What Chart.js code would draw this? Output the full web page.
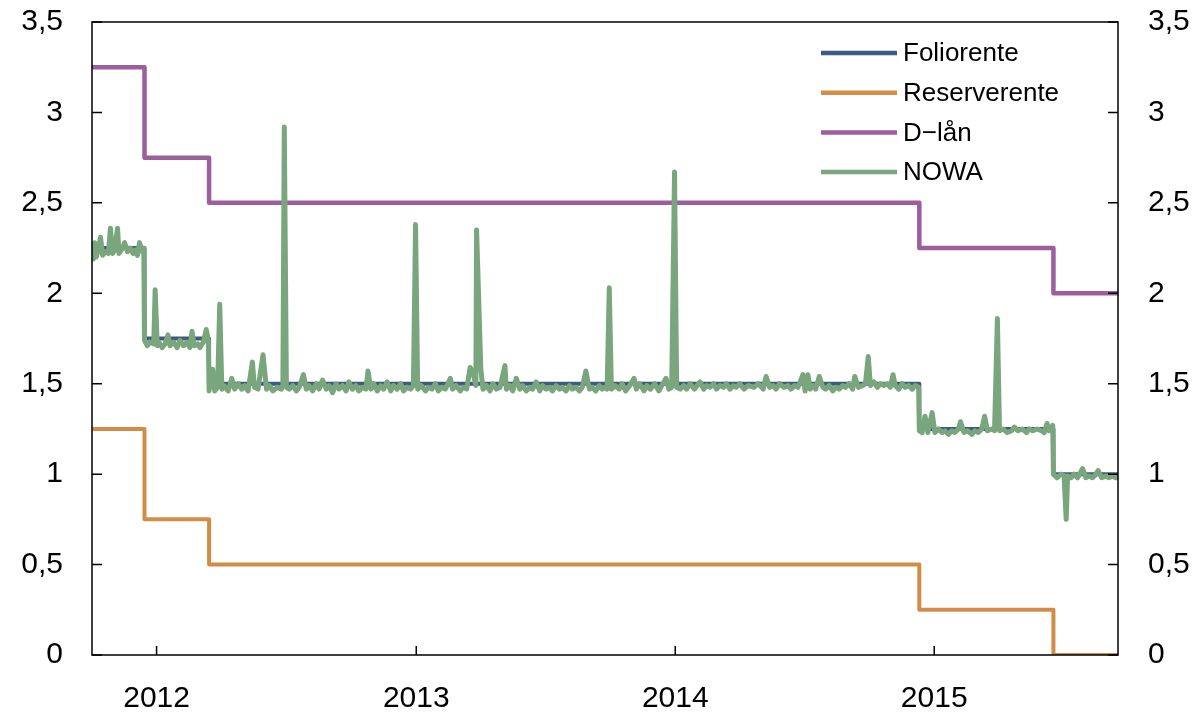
<!DOCTYPE html>
<html>
<head>
<meta charset="utf-8">
<title>Foliorente, reserverente, D-lån og NOWA</title>
<script src="https://cdn.jsdelivr.net/npm/chart.js@4/dist/chart.umd.min.js"></script>
<style>
  html, body { margin: 0; padding: 0; background: #fff; }
  #wrap { position: relative; width: 1199px; height: 716px; }
</style>
</head>
<body>
<div id="wrap"><canvas id="rates"></canvas></div>
<script>
// Axis range and tick labels
const xStart = '2011-10-02';
const xEnd = '2015-09-17';
const yearTicks = ['2012-01-01', '2013-01-01', '2014-01-01', '2015-01-01'];
const yearLabels = ['2012', '2013', '2014', '2015'];
const yTicks = [0, 0.5, 1, 1.5, 2, 2.5, 3, 3.5];

// Policy rate decisions (date the new level applies)
const changeDates = ['2011-10-02', '2011-12-15', '2012-03-15', '2014-12-11', '2015-06-18', '2015-09-17'];
const folioRate = [2.25, 1.75, 1.5, 1.25, 1.0, 1.0];
const reserveRate = [1.25, 0.75, 0.5, 0.25, 0.0, 0.0];
const dLoanRate = [3.25, 2.75, 2.5, 2.25, 2.0, 2.0];

// NOWA
const nowa = [
  ['2011-10-02', 2.27], ['2011-10-04', 2.19], ['2011-10-06', 2.28], ['2011-10-08', 2.20], ['2011-10-11', 2.24],
  ['2011-10-14', 2.31], ['2011-10-17', 2.21], ['2011-10-21', 2.23], ['2011-10-25', 2.22], ['2011-10-28', 2.36],
  ['2011-10-31', 2.22], ['2011-11-03', 2.24], ['2011-11-07', 2.36], ['2011-11-09', 2.22], ['2011-11-14', 2.25],
  ['2011-11-17', 2.28], ['2011-11-21', 2.23], ['2011-11-25', 2.25], ['2011-11-29', 2.22], ['2011-12-02', 2.24],
  ['2011-12-05', 2.21], ['2011-12-08', 2.28], ['2011-12-12', 2.23], ['2011-12-14', 2.25], ['2011-12-15', 1.74],
  ['2011-12-19', 1.71], ['2011-12-22', 1.73], ['2011-12-28', 1.72], ['2011-12-30', 2.02], ['2012-01-02', 1.71],
  ['2012-01-04', 1.73], ['2012-01-09', 1.70], ['2012-01-13', 1.72], ['2012-01-17', 1.77], ['2012-01-20', 1.71],
  ['2012-01-25', 1.73], ['2012-01-30', 1.70], ['2012-02-03', 1.74], ['2012-02-08', 1.71], ['2012-02-13', 1.73],
  ['2012-02-17', 1.70], ['2012-02-20', 1.79], ['2012-02-23', 1.71], ['2012-02-28', 1.72], ['2012-03-02', 1.70],
  ['2012-03-07', 1.73], ['2012-03-11', 1.80], ['2012-03-14', 1.74], ['2012-03-15', 1.46], ['2012-03-20', 1.58],
  ['2012-03-23', 1.46], ['2012-03-27', 1.48], ['2012-03-30', 1.94], ['2012-04-02', 1.47], ['2012-04-05', 1.49],
  ['2012-04-11', 1.46], ['2012-04-16', 1.53], ['2012-04-20', 1.47], ['2012-04-25', 1.50], ['2012-04-30', 1.47],
  ['2012-05-04', 1.49], ['2012-05-09', 1.46], ['2012-05-15', 1.62], ['2012-05-18', 1.48], ['2012-05-23', 1.47],
  ['2012-05-30', 1.66], ['2012-06-04', 1.47], ['2012-06-08', 1.49], ['2012-06-13', 1.46], ['2012-06-19', 1.48],
  ['2012-06-25', 1.47], ['2012-06-27', 1.49], ['2012-06-29', 2.92], ['2012-07-02', 1.48], ['2012-07-06', 1.47],
  ['2012-07-11', 1.49], ['2012-07-16', 1.46], ['2012-07-20', 1.48], ['2012-07-26', 1.55], ['2012-07-30', 1.47],
  ['2012-08-03', 1.49], ['2012-08-08', 1.46], ['2012-08-13', 1.50], ['2012-08-17', 1.47], ['2012-08-22', 1.52],
  ['2012-08-27', 1.47], ['2012-08-31', 1.49], ['2012-09-05', 1.45], ['2012-09-10', 1.50], ['2012-09-14', 1.47],
  ['2012-09-19', 1.49], ['2012-09-24', 1.46], ['2012-09-28', 1.51], ['2012-10-03', 1.47], ['2012-10-08', 1.49],
  ['2012-10-12', 1.46], ['2012-10-17', 1.48], ['2012-10-22', 1.47], ['2012-10-25', 1.57], ['2012-10-29', 1.47],
  ['2012-11-02', 1.50], ['2012-11-07', 1.46], ['2012-11-12', 1.49], ['2012-11-16', 1.47], ['2012-11-21', 1.51],
  ['2012-11-26', 1.46], ['2012-11-30', 1.49], ['2012-12-05', 1.47], ['2012-12-10', 1.50], ['2012-12-14', 1.46],
  ['2012-12-19', 1.48], ['2012-12-24', 1.47], ['2012-12-28', 1.49], ['2012-12-31', 2.38], ['2013-01-03', 1.47],
  ['2013-01-08', 1.49], ['2013-01-14', 1.46], ['2013-01-18', 1.48], ['2013-01-23', 1.47], ['2013-01-28', 1.50],
  ['2013-02-01', 1.46], ['2013-02-06', 1.48], ['2013-02-11', 1.47], ['2013-02-18', 1.53], ['2013-02-21', 1.47],
  ['2013-02-26', 1.49], ['2013-03-04', 1.46], ['2013-03-08', 1.48], ['2013-03-13', 1.47], ['2013-03-18', 1.59],
  ['2013-03-22', 1.56], ['2013-03-26', 1.49], ['2013-03-27', 2.35], ['2013-04-02', 1.58], ['2013-04-05', 1.47],
  ['2013-04-10', 1.49], ['2013-04-15', 1.46], ['2013-04-19', 1.50], ['2013-04-24', 1.47], ['2013-04-29', 1.48],
  ['2013-05-06', 1.60], ['2013-05-08', 1.47], ['2013-05-13', 1.49], ['2013-05-17', 1.46], ['2013-05-22', 1.53],
  ['2013-05-27', 1.47], ['2013-05-31', 1.49], ['2013-06-05', 1.46], ['2013-06-10', 1.48], ['2013-06-14', 1.47],
  ['2013-06-19', 1.51], ['2013-06-24', 1.46], ['2013-06-28', 1.49], ['2013-07-03', 1.47], ['2013-07-08', 1.48],
  ['2013-07-12', 1.46], ['2013-07-17', 1.49], ['2013-07-22', 1.47], ['2013-07-26', 1.48], ['2013-07-31', 1.46],
  ['2013-08-05', 1.49], ['2013-08-09', 1.47], ['2013-08-14', 1.48], ['2013-08-19', 1.46], ['2013-08-23', 1.48],
  ['2013-08-28', 1.57], ['2013-09-02', 1.47], ['2013-09-06', 1.48], ['2013-09-11', 1.46], ['2013-09-16', 1.49],
  ['2013-09-20', 1.47], ['2013-09-25', 1.48], ['2013-09-27', 1.47], ['2013-09-30', 2.03], ['2013-10-03', 1.47],
  ['2013-10-08', 1.49], ['2013-10-14', 1.47], ['2013-10-18', 1.50], ['2013-10-23', 1.46], ['2013-10-29', 1.49],
  ['2013-11-04', 1.53], ['2013-11-07', 1.47], ['2013-11-12', 1.50], ['2013-11-18', 1.46], ['2013-11-22', 1.49],
  ['2013-11-27', 1.47], ['2013-12-03', 1.50], ['2013-12-09', 1.46], ['2013-12-13', 1.49], ['2013-12-19', 1.53],
  ['2013-12-23', 1.47], ['2013-12-27', 1.48], ['2013-12-31', 2.67], ['2014-01-03', 1.48], ['2014-01-08', 1.47],
  ['2014-01-13', 1.49], ['2014-01-17', 1.47], ['2014-01-22', 1.50], ['2014-01-28', 1.47], ['2014-02-05', 1.51],
  ['2014-02-10', 1.47], ['2014-02-14', 1.49], ['2014-02-19', 1.48], ['2014-02-24', 1.50], ['2014-02-28', 1.47],
  ['2014-03-05', 1.49], ['2014-03-10', 1.48], ['2014-03-14', 1.50], ['2014-03-19', 1.47], ['2014-03-24', 1.49],
  ['2014-03-28', 1.48], ['2014-04-02', 1.50], ['2014-04-08', 1.47], ['2014-04-14', 1.49], ['2014-04-22', 1.48],
  ['2014-04-28', 1.50], ['2014-05-05', 1.47], ['2014-05-09', 1.54], ['2014-05-14', 1.48], ['2014-05-19', 1.49],
  ['2014-05-23', 1.47], ['2014-05-28', 1.50], ['2014-06-03', 1.48], ['2014-06-09', 1.49], ['2014-06-13', 1.47],
  ['2014-06-18', 1.49], ['2014-06-23', 1.48], ['2014-06-30', 1.55], ['2014-07-03', 1.46], ['2014-07-07', 1.55],
  ['2014-07-10', 1.47], ['2014-07-15', 1.49], ['2014-07-18', 1.47], ['2014-07-23', 1.54], ['2014-07-28', 1.48],
  ['2014-08-01', 1.47], ['2014-08-06', 1.49], ['2014-08-11', 1.46], ['2014-08-15', 1.48], ['2014-08-20', 1.47],
  ['2014-08-25', 1.49], ['2014-08-29', 1.48], ['2014-09-03', 1.50], ['2014-09-08', 1.47], ['2014-09-11', 1.54],
  ['2014-09-16', 1.48], ['2014-09-22', 1.49], ['2014-09-26', 1.50], ['2014-09-30', 1.65], ['2014-10-03', 1.49],
  ['2014-10-08', 1.51], ['2014-10-13', 1.48], ['2014-10-17', 1.50], ['2014-10-22', 1.49], ['2014-10-27', 1.50],
  ['2014-10-31', 1.48], ['2014-11-04', 1.55], ['2014-11-07', 1.49], ['2014-11-12', 1.47], ['2014-11-17', 1.50],
  ['2014-11-21', 1.48], ['2014-11-26', 1.49], ['2014-12-01', 1.47], ['2014-12-05', 1.49], ['2014-12-10', 1.48],
  ['2014-12-11', 1.24], ['2014-12-15', 1.23], ['2014-12-19', 1.32], ['2014-12-23', 1.23], ['2014-12-29', 1.34],
  ['2015-01-02', 1.23], ['2015-01-07', 1.25], ['2015-01-12', 1.23], ['2015-01-16', 1.24], ['2015-01-21', 1.22],
  ['2015-01-26', 1.24], ['2015-01-30', 1.23], ['2015-02-04', 1.25], ['2015-02-07', 1.29], ['2015-02-12', 1.23],
  ['2015-02-17', 1.24], ['2015-02-23', 1.22], ['2015-02-27', 1.24], ['2015-03-04', 1.23], ['2015-03-09', 1.25],
  ['2015-03-13', 1.32], ['2015-03-17', 1.24], ['2015-03-23', 1.25], ['2015-03-27', 1.24], ['2015-03-31', 1.86],
  ['2015-04-03', 1.24], ['2015-04-08', 1.25], ['2015-04-14', 1.23], ['2015-04-20', 1.24], ['2015-04-24', 1.26],
  ['2015-04-29', 1.24], ['2015-05-05', 1.25], ['2015-05-11', 1.23], ['2015-05-15', 1.25], ['2015-05-20', 1.24],
  ['2015-05-26', 1.25], ['2015-06-01', 1.24], ['2015-06-05', 1.23], ['2015-06-09', 1.28], ['2015-06-12', 1.24],
  ['2015-06-17', 1.27], ['2015-06-18', 1.00], ['2015-06-23', 0.98], ['2015-06-29', 1.00], ['2015-07-03', 0.99],
  ['2015-07-06', 0.75], ['2015-07-08', 0.99], ['2015-07-13', 0.98], ['2015-07-17', 1.00], ['2015-07-22', 0.98],
  ['2015-07-29', 1.03], ['2015-08-03', 0.98], ['2015-08-07', 0.99], ['2015-08-12', 0.98], ['2015-08-17', 1.00],
  ['2015-08-20', 1.02], ['2015-08-25', 0.98], ['2015-08-31', 0.99], ['2015-09-04', 0.98], ['2015-09-09', 0.99],
  ['2015-09-14', 0.98], ['2015-09-17', 0.98]
];

const FONT = '"Liberation Sans", Arial, Helvetica, sans-serif';
const day = s => Date.parse(s + 'T00:00:00Z') / 864e5;
const stepSeries = values => changeDates.map((d, i) => ({ x: day(d), y: values[i] }));
const fmt = v => String(v).replace('.', ',');
// fixed box sizes so the plot area lands where the original has it
const fixSize = (w, h) => s => {
    if (w) s.width = w;
    if (h) s.height = h;
    s.paddingTop = s.paddingBottom = s.paddingLeft = s.paddingRight = 0;
};

// frame box, inward tick marks and the legend inside the plot
const framePlugin = {
    id: 'frame',
    afterDraw(chart) {
        const ctx = chart.ctx;
        const a = chart.chartArea;
        const x = chart.scales.x, y = chart.scales.y;
        ctx.save();
        ctx.strokeStyle = '#000';
        ctx.lineWidth = 1.5;
        ctx.strokeRect(a.left, a.top, a.right - a.left, a.bottom - a.top);
        ctx.beginPath();
        yTicks.forEach(v => {
            const py = y.getPixelForValue(v);
            ctx.moveTo(a.left, py); ctx.lineTo(a.left + 10, py);
            ctx.moveTo(a.right, py); ctx.lineTo(a.right - 10, py);
        });
        yearTicks.forEach(d => {
            const px = x.getPixelForValue(day(d));
            ctx.moveTo(px, a.bottom); ctx.lineTo(px, a.bottom - 9);
        });
        ctx.stroke();

        // legend
        ctx.font = '26px ' + FONT;
        ctx.textBaseline = 'middle';
        ctx.textAlign = 'left';
        chart.data.datasets.forEach((ds, i) => {
            const ly = 53 + i * 39.7;
            ctx.strokeStyle = ds.borderColor;
            ctx.lineWidth = 4.5;
            ctx.beginPath();
            ctx.moveTo(821, ly); ctx.lineTo(897, ly);
            ctx.stroke();
            ctx.fillStyle = '#000';
            ctx.fillText(ds.label, 903, ly + 1);
        });
        ctx.restore();
    }
};

new Chart(document.getElementById('rates').getContext('2d'), {
    type: 'line',
    data: {
        datasets: [
            { label: 'Foliorente', data: stepSeries(folioRate), borderColor: '#3f5a80', borderWidth: 4, stepped: true, order: 3 },
            { label: 'Reserverente', data: stepSeries(reserveRate), borderColor: '#d18d48', borderWidth: 4, stepped: true, order: 2 },
            { label: 'D\u2212lån', data: stepSeries(dLoanRate), borderColor: '#9c5e9d', borderWidth: 4.5, stepped: true, order: 1 },
            { label: 'NOWA', data: nowa.map(p => ({ x: day(p[0]), y: p[1] })), borderColor: '#79a67d', borderWidth: 5, order: 0 }
        ]
    },
    options: {
        responsive: true,
        maintainAspectRatio: false,
        animation: false,
        layout: { padding: { top: 22, left: 0, right: 0, bottom: 0 } },
        elements: { point: { radius: 0 }, line: { tension: 0, borderCapStyle: 'round', borderJoinStyle: 'round' } },
        plugins: { legend: { display: false }, tooltip: { enabled: false } },
        scales: {
            x: {
                type: 'linear',
                min: day(xStart),
                max: day(xEnd),
                grid: { display: false, drawTicks: false },
                border: { display: false },
                afterFit: fixSize(0, 61),
                afterBuildTicks: s => { s.ticks = yearTicks.map(d => ({ value: day(d) })); },
                ticks: {
                    autoSkip: false,
                    maxRotation: 0,
                    padding: 26,
                    color: '#000',
                    font: { family: FONT, size: 30 },
                    callback: v => yearLabels[yearTicks.findIndex(d => day(d) === v)]
                }
            },
            y: {
                position: 'left',
                min: 0,
                max: 3.5,
                grid: { display: false, drawTicks: false },
                border: { display: false },
                afterFit: fixSize(92, 0),
                afterBuildTicks: s => { s.ticks = yTicks.map(v => ({ value: v })); },
                ticks: { padding: 29, color: '#000', font: { family: FONT, size: 30 }, callback: fmt }
            },
            y2: {
                position: 'right',
                min: 0,
                max: 3.5,
                grid: { display: false, drawTicks: false },
                border: { display: false },
                afterFit: fixSize(81, 0),
                afterBuildTicks: s => { s.ticks = yTicks.map(v => ({ value: v })); },
                ticks: { padding: 30, color: '#000', font: { family: FONT, size: 30 }, callback: fmt }
            }
        }
    },
    plugins: [framePlugin]
});
</script>
</body>
</html>
